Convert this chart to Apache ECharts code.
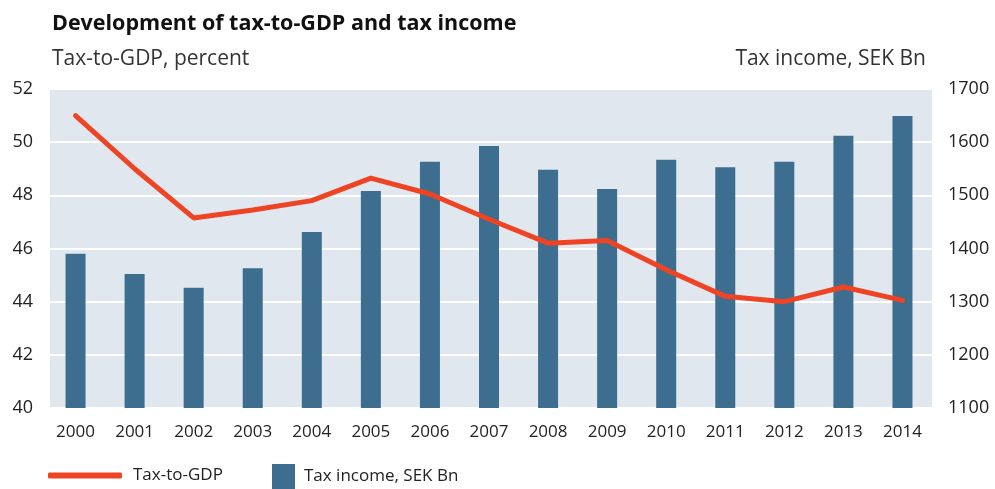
<!DOCTYPE html>
<html><head><meta charset="utf-8">
<script src="https://cdn.jsdelivr.net/npm/echarts@6/dist/echarts.min.js"></script>
<style>html,body{margin:0;padding:0;background:#fff}#c{width:995px;height:489px}</style>
</head><body><div id="c"></div>
<script>
const years = ['2000','2001','2002','2003','2004','2005','2006','2007','2008','2009','2010','2011','2012','2013','2014'];
const taxToGdp = [51.0, 49.0, 47.15, 47.45, 47.8, 48.65, 48.05, 47.1, 46.2, 46.3, 45.2, 44.2, 44.0, 44.55, 44.05];
const taxIncome = [1390, 1352, 1326, 1363, 1431, 1508, 1563, 1593, 1548, 1512, 1567, 1553, 1563, 1612, 1649];
const leftTicks = {min: 40, max: 52, interval: 2};
const rightTicks = {min: 1100, max: 1700, interval: 100};

const FONT = '"Open Sans", "DejaVu Sans", sans-serif';
const chart = echarts.init(document.getElementById('c'));
chart.setOption({
  animation: false,
  textStyle: {fontFamily: FONT},
  title: [
    {text: 'Development of tax-to-GDP and tax income', left: 47, top: 8,
     textStyle: {fontSize: 21.5, fontWeight: 'bold', color: '#111', fontFamily: FONT}},
    {text: 'Tax-to-GDP, percent', left: 47, top: 44,
     textStyle: {fontSize: 21, fontWeight: 'normal', color: '#333', fontFamily: FONT}},
    {text: 'Tax income, SEK Bn', right: 64, top: 44,
     textStyle: {fontSize: 21, fontWeight: 'normal', color: '#333', fontFamily: FONT}}
  ],
  legend: [
    {data: [{name: 'Tax-to-GDP', icon: 'roundRect'}], left: 48, top: 467, itemWidth: 74, itemHeight: 6, itemGap: 10,
     textStyle: {fontSize: 17, color: '#222', padding: [0, 0, 0, 6]}, selectedMode: false, padding: 0},
    {data: [{name: 'Tax income, SEK Bn', icon: 'rect'}], left: 272, top: 464, itemWidth: 23, itemHeight: 25,
     textStyle: {fontSize: 17, color: '#222', padding: [0, 0, 0, 4]}, selectedMode: false, padding: 0}
  ],
  grid: [
    {left: 46, right: 63, top: 89, bottom: 81, show: false},
    {left: 50, right: 63, top: 89, bottom: 81, show: true, backgroundColor: '#e0e7ef', borderWidth: 0, z: -1}
  ],
  xAxis: [
    {type: 'category', data: years, gridIndex: 0,
     axisLine: {show: false}, axisTick: {show: false},
     axisLabel: {fontSize: 17, color: '#222', margin: 16}},
    {type: 'category', data: years, gridIndex: 1, show: false}
  ],
  yAxis: [
    {type: 'value', gridIndex: 0, min: leftTicks.min, max: leftTicks.max, interval: leftTicks.interval,
     axisLine: {show: false}, axisTick: {show: false},
     axisLabel: {fontSize: 18, color: '#222', margin: 13},
     splitLine: {show: true, lineStyle: {color: '#ffffff', width: 2}}},
    {type: 'value', gridIndex: 0, min: rightTicks.min, max: rightTicks.max, interval: rightTicks.interval,
     axisLine: {show: false}, axisTick: {show: false},
     axisLabel: {fontSize: 18, color: '#222', margin: 16, formatter: v => String(v)},
     splitLine: {show: false}},
    {type: 'value', gridIndex: 1, show: false, splitLine: {show: false}}
  ],
  series: [
    {name: 'Tax income, SEK Bn', type: 'bar', xAxisIndex: 0, yAxisIndex: 1, data: taxIncome, barWidth: 20,
     itemStyle: {color: '#3d6e8f'}, z: 2},
    {name: 'Tax-to-GDP', type: 'line', xAxisIndex: 0, yAxisIndex: 0, data: taxToGdp, symbol: 'none',
     lineStyle: {color: '#ef4424', width: 5, cap: 'round'}, itemStyle: {color: '#ef4424'}, z: 3}
  ]
});
</script></body></html>
